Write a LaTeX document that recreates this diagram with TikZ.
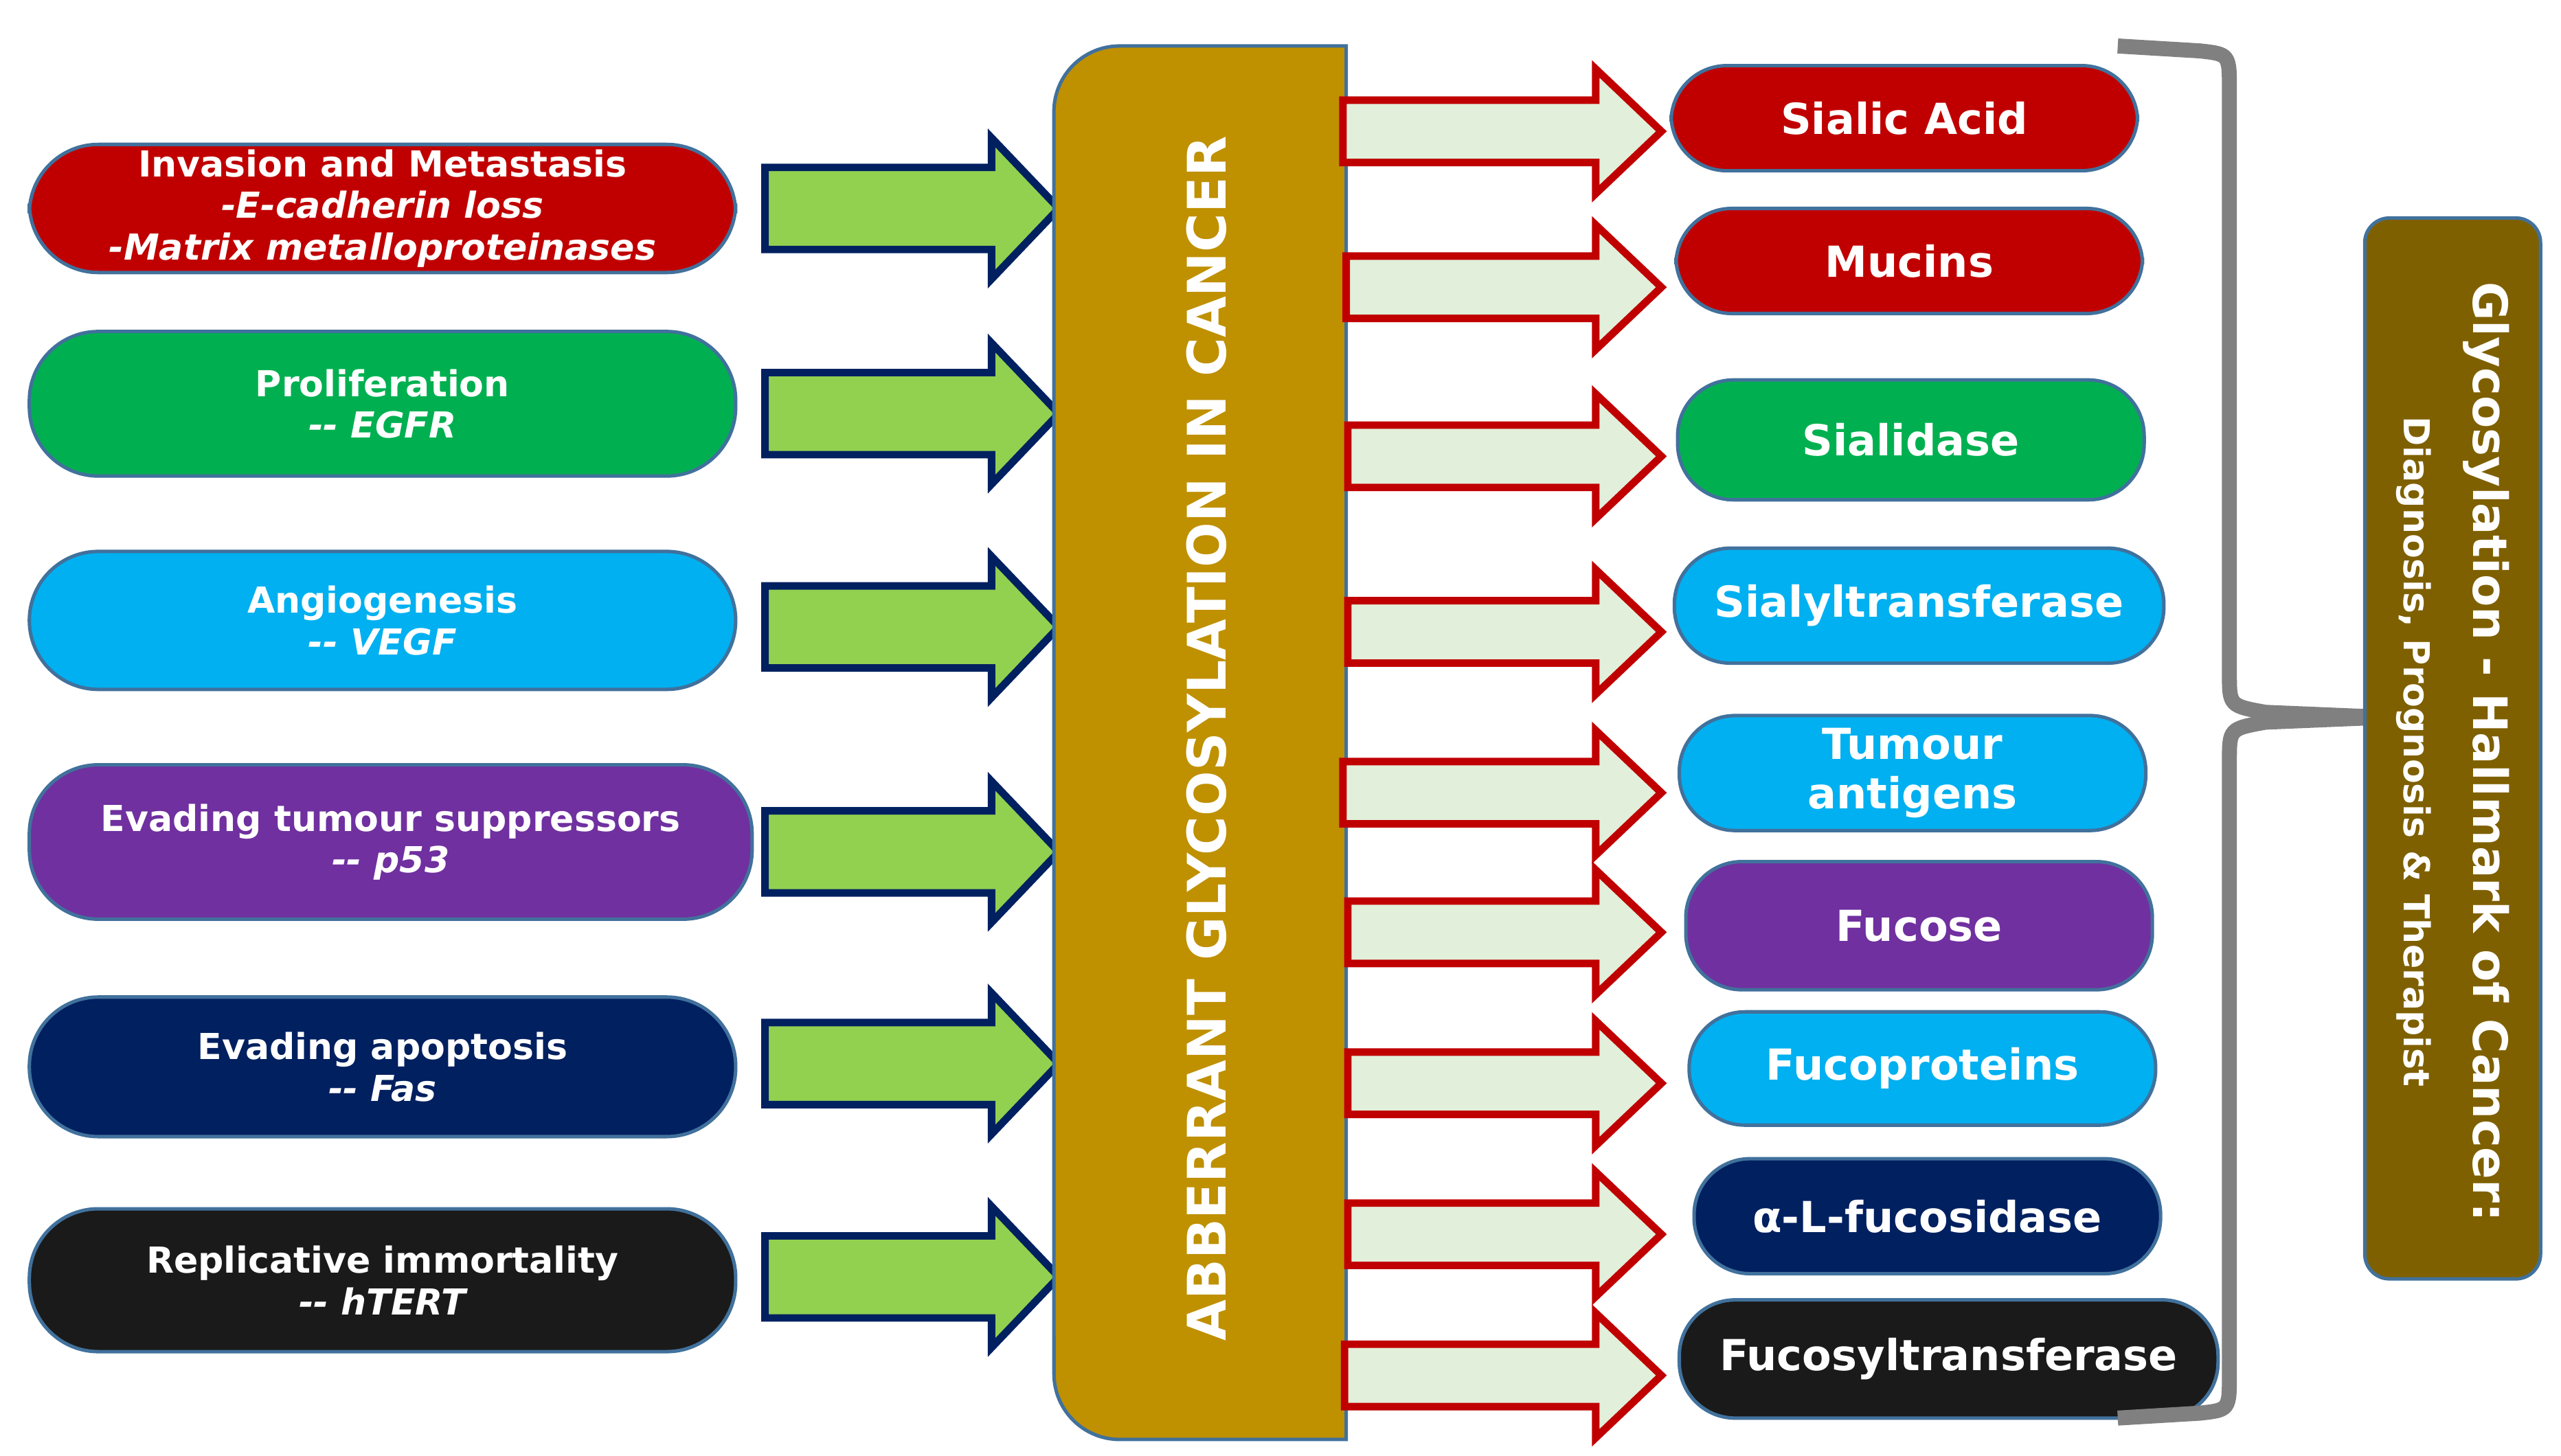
\documentclass[tikz,border=0pt]{standalone}
\usepackage{fontspec}
\setmainfont{DejaVu Sans}
\begin{document}
\begin{tikzpicture}[x=0.01cm,y=-0.01cm]
\useasboundingbox (0,0) rectangle (1560,887);
\definecolor{cR}{HTML}{C00000}\definecolor{cG}{HTML}{00B050}\definecolor{cC}{HTML}{00B0F0}
\definecolor{cP}{HTML}{7030A0}\definecolor{cN}{HTML}{002060}\definecolor{cK}{HTML}{1A1A1A}
\definecolor{cGold}{HTML}{BF9000}\definecolor{cBr}{HTML}{7F6000}\definecolor{cLime}{HTML}{92D050}
\definecolor{cPale}{HTML}{E2EFDA}\definecolor{cNavy}{HTML}{002060}\definecolor{cEdge}{HTML}{41719C}
\tikzset{
 pill/.style={rectangle,rounded corners=0.42cm,draw=cEdge,line width=0.6pt,text=white,font=\bfseries\fontsize{6.2}{7.2}\selectfont,align=center,inner sep=0pt},
 rpill/.style={pill,font=\bfseries\fontsize{7.4}{8.6}\selectfont,rounded corners=0.34cm},
 garr/.style={fill=cLime,draw=cNavy,line width=1.3pt},
 rarr/.style={fill=cPale,draw=cR,line width=1.3pt}}
% left pills
\node[pill,fill=cR,minimum width=4.3cm,minimum height=0.78cm] (l1) at (233,127) {Invasion and Metastasis\\\itshape -E-cadherin loss\\\itshape -Matrix metalloproteinases};
\node[pill,fill=cG,minimum width=4.3cm,minimum height=0.88cm] (l2) at (233,246) {Proliferation\\\itshape -{}- EGFR};
\node[pill,fill=cC,minimum width=4.3cm,minimum height=0.84cm] (l3) at (233,378) {Angiogenesis\\\itshape -{}- VEGF};
\node[pill,fill=cP,minimum width=4.4cm,minimum height=0.94cm] (l4) at (238,513) {Evading tumour suppressors\\\itshape -{}- p53};
\node[pill,fill=cN,minimum width=4.3cm,minimum height=0.85cm] (l5) at (233,650) {Evading apoptosis\\\itshape -{}- Fas};
\node[pill,fill=cK,minimum width=4.3cm,minimum height=0.87cm] (l6) at (233,780) {Replicative immortality\\\itshape -{}- hTERT};
% green arrows
\foreach \y in {127,252,382,519,648,778}{
 \draw[garr] (466,{\y-25}) -- (604,{\y-25}) -- (604,{\y-43}) -- (645,\y) -- (604,{\y+43}) -- (604,{\y+25}) -- (466,{\y+25}) -- cycle;}
% central box
\draw[fill=cGold,draw=cEdge,line width=0.6pt] (820,28) -- (682,28) arc[start angle=90,end angle=180,radius=0.4cm] -- (642,837) arc[start angle=180,end angle=270,radius=0.4cm] -- (820,877) -- cycle;
\node[rotate=90,text=white,font=\bfseries\fontsize{9.2}{11}\selectfont] (c) at (735,450) {ABBERRANT GLYCOSYLATION IN CANCER};
% right arrows
\foreach \y/\xs in {80/818,175/820,278/821,385/821,483/818,568/821,660/821,752/821,838/819}{
 \draw[rarr] (\xs,{\y-19}) -- (972,{\y-19}) -- (972,{\y-38}) -- (1012,\y) -- (972,{\y+38}) -- (972,{\y+19}) -- (\xs,{\y+19}) -- cycle;}
% right pills
\node[rpill,fill=cR,minimum width=2.84cm,minimum height=0.64cm] (r1) at (1160,72) {Sialic Acid};
\node[rpill,fill=cR,minimum width=2.84cm,minimum height=0.64cm] (r2) at (1163,159) {Mucins};
\node[rpill,fill=cG,minimum width=2.84cm,minimum height=0.73cm] (r3) at (1164,268) {Sialidase};
\node[rpill,fill=cC,minimum width=2.98cm,minimum height=0.70cm] (r4) at (1169,369) {Sialyltransferase};
\node[rpill,fill=cC,minimum width=2.84cm,minimum height=0.70cm,font=\bfseries\fontsize{7.4}{8.6}\selectfont] (r5) at (1165,471) {Tumour\\antigens};
\node[rpill,fill=cP,minimum width=2.84cm,minimum height=0.78cm] (r6) at (1169,564) {Fucose};
\node[rpill,fill=cC,minimum width=2.84cm,minimum height=0.69cm] (r7) at (1171,651) {Fucoproteins};
\node[rpill,fill=cN,minimum width=2.84cm,minimum height=0.70cm] (r8) at (1174,741) {α-L-fucosidase};
\node[rpill,fill=cK,minimum width=3.28cm,minimum height=0.72cm] (r9) at (1187,828) {Fucosyltransferase};
% brace
\draw[gray,line width=2.6pt] (1290,28) -- (1340,31) .. controls (1358,33) .. (1358,55) -- (1358,410) .. controls (1358,430) .. (1380,434) -- (1452,437);
\draw[gray,line width=2.6pt] (1290,864) -- (1340,861) .. controls (1358,859) .. (1358,837) -- (1358,464) .. controls (1358,444) .. (1380,440) -- (1452,437);
% right box
\node[draw=cEdge,fill=cBr,rounded corners=0.15cm,minimum width=1.07cm,minimum height=6.46cm,line width=0.6pt] (g) at (1494,456) {};
\node[rotate=-90,text=white,align=center,font=\bfseries\fontsize{8.2}{12}\selectfont] (gt) at (1494,458) {Glycosylation - Hallmark of Cancer:\\{\fontsize{6.2}{8}\selectfont Diagnosis, Prognosis \& Therapist}};
\end{tikzpicture}
\end{document}
